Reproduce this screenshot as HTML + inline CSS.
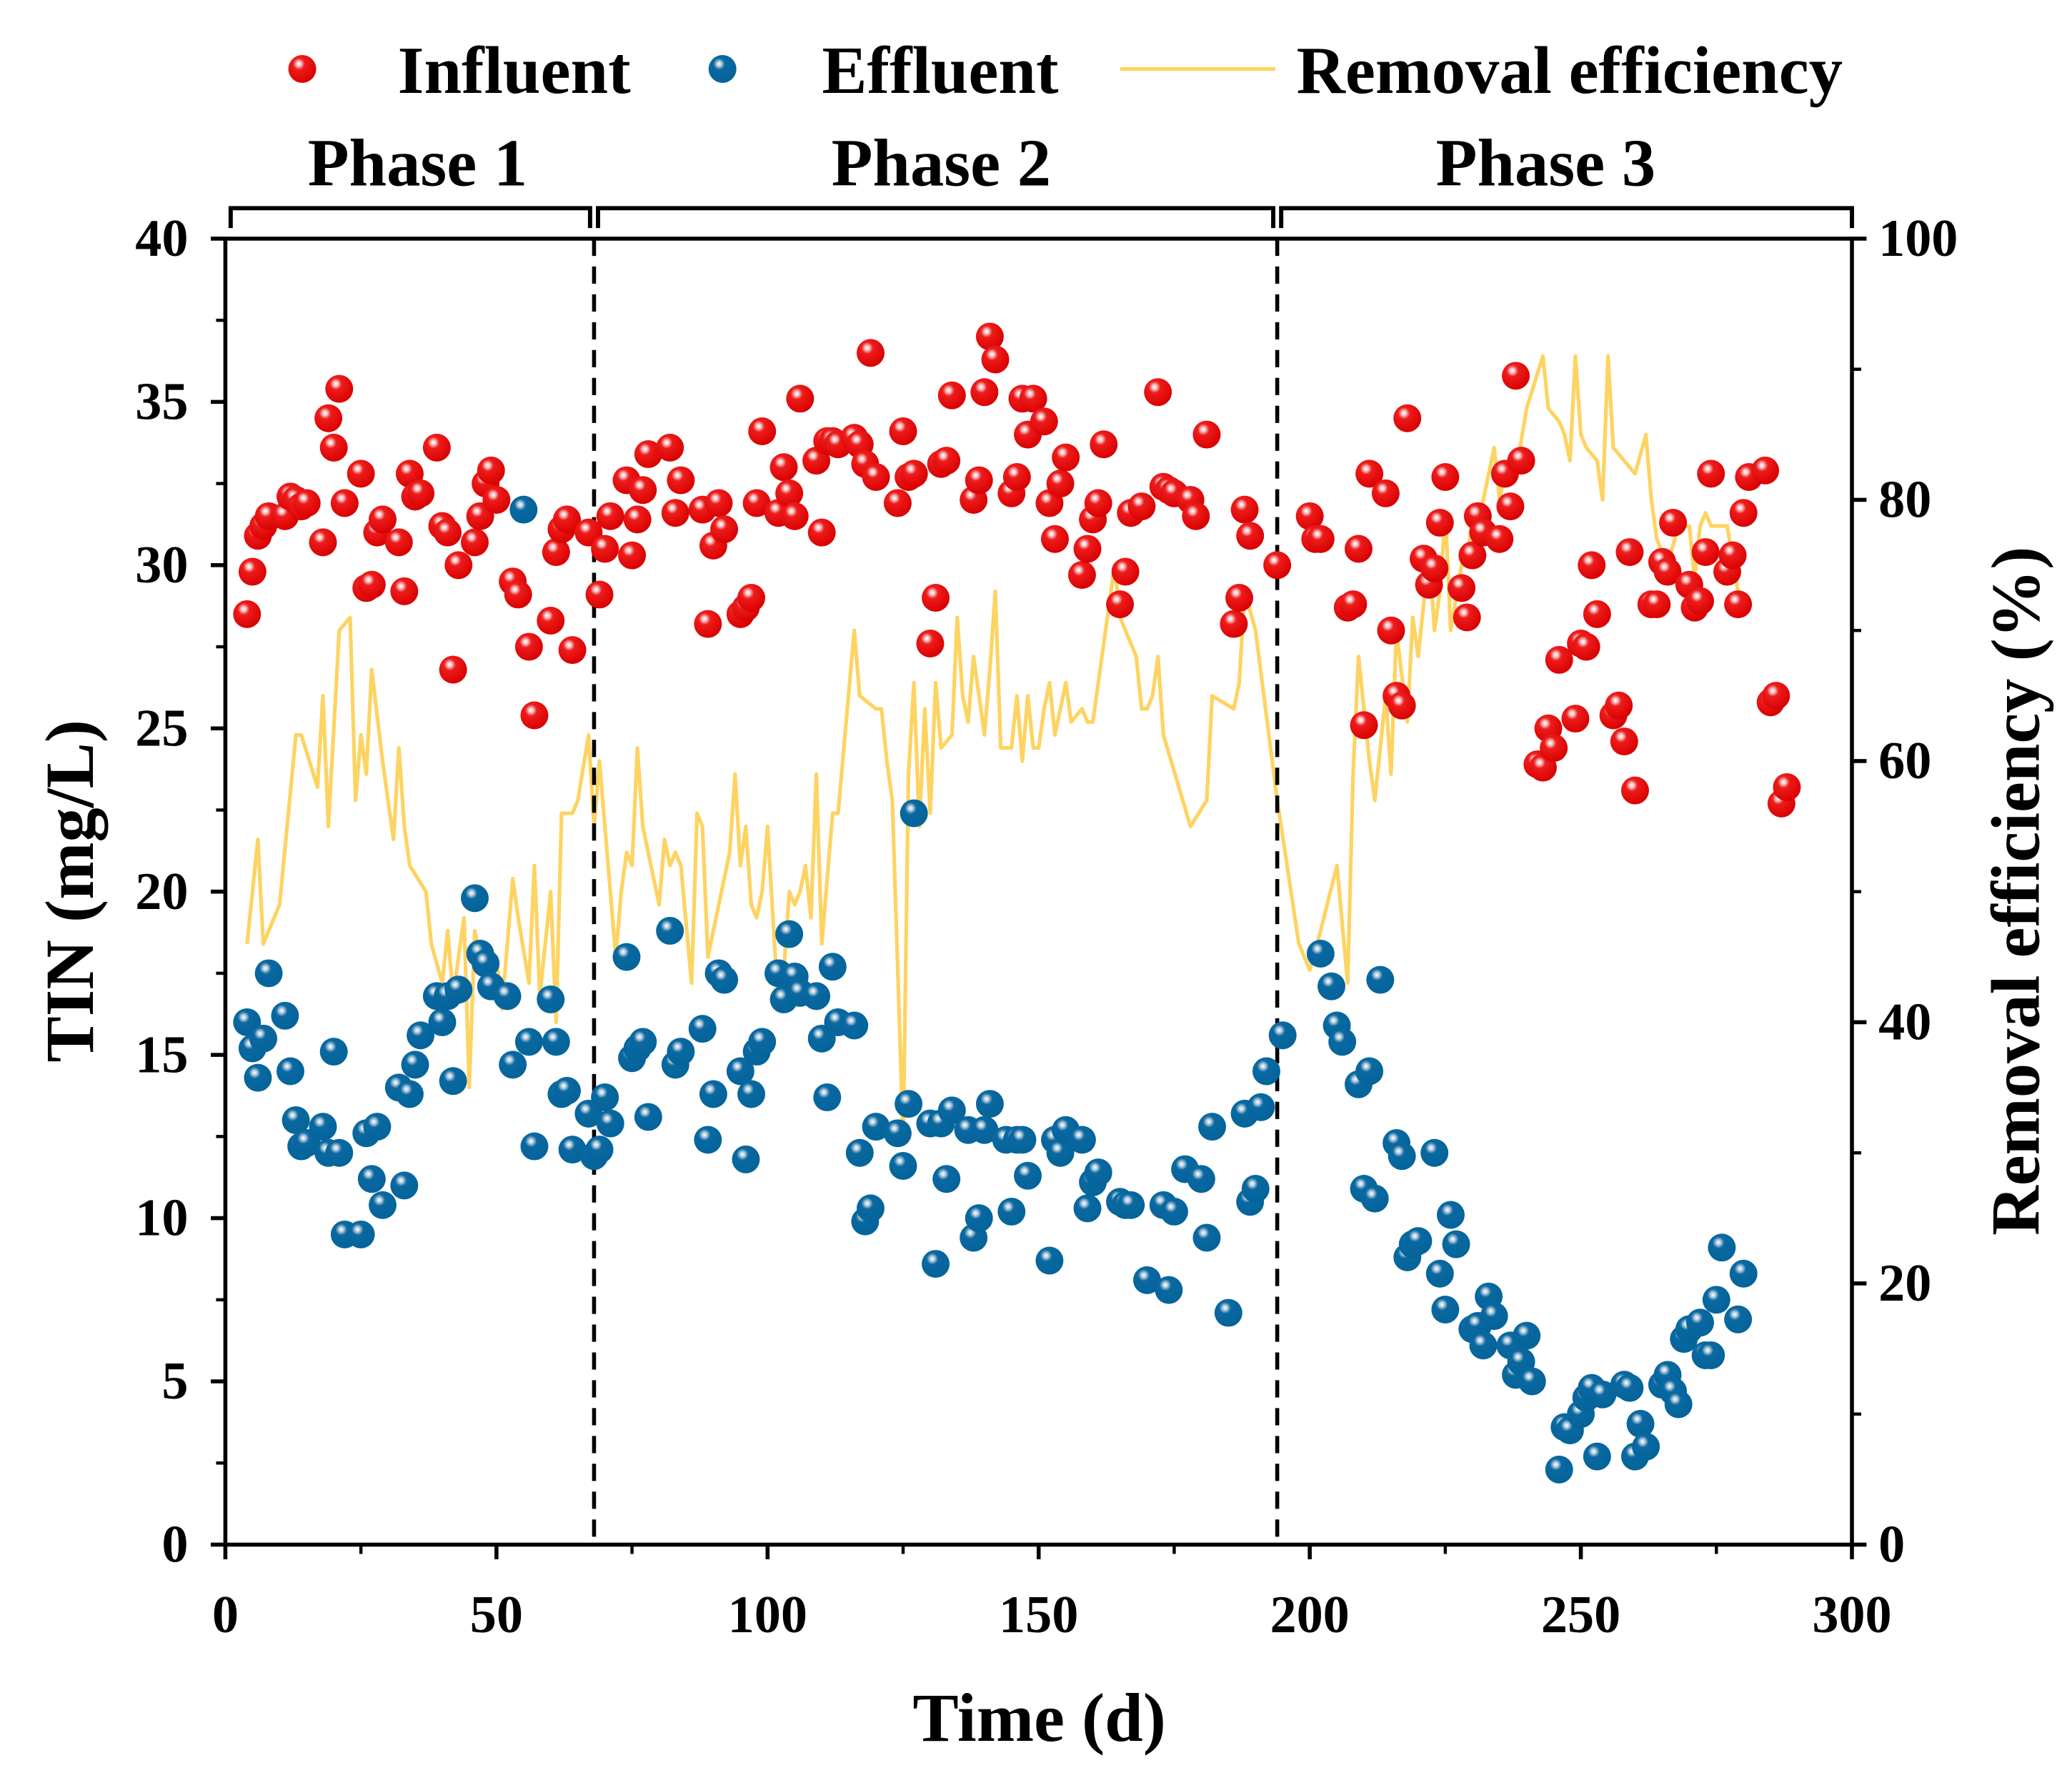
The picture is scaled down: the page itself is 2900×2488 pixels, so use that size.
<!DOCTYPE html>
<html><head><meta charset="utf-8"><style>
html,body{margin:0;padding:0;background:#fff;}
svg{display:block;font-family:"Liberation Serif",serif;font-weight:bold;}
</style></head><body>
<svg id="chart" width="2900" height="2488" viewBox="0 0 1563 1341" preserveAspectRatio="none" xmlns="http://www.w3.org/2000/svg">
<defs>
<radialGradient id="gr" cx="0.38" cy="0.32" r="0.7">
<stop offset="0" stop-color="#ffffff"/><stop offset="0.12" stop-color="#f6c4c4"/><stop offset="0.3" stop-color="#ee1c1c"/><stop offset="1" stop-color="#d80000"/></radialGradient>
<radialGradient id="gb" cx="0.38" cy="0.32" r="0.7">
<stop offset="0" stop-color="#ffffff"/><stop offset="0.12" stop-color="#b8cfe0"/><stop offset="0.3" stop-color="#0a68a0"/><stop offset="1" stop-color="#03649a"/></radialGradient>
</defs>
<g id="plot"></g>
</svg>
<script>
const influent = [[4,28.5],[5,29.8],[6,30.9],[7,31.2],[8,31.5],[11,31.5],[12,32.1],[13,32],[14,31.8],[15,31.9],[18,30.7],[19,34.5],[20,33.6],[21,35.4],[22,31.9],[25,32.8],[26,29.3],[27,29.4],[28,31],[29,31.4],[32,30.7],[33,29.2],[34,32.8],[35,32.1],[36,32.2],[39,33.6],[40,31.2],[41,31],[42,26.8],[43,30],[46,30.7],[47,31.5],[48,32.5],[49,32.9],[50,32],[53,29.5],[54,29.1],[56,27.5],[57,25.4],[60,28.3],[61,30.4],[62,31.1],[63,31.4],[64,27.4],[67,31],[69,29.1],[70,30.5],[71,31.5],[74,32.6],[75,30.3],[76,31.4],[77,32.3],[78,33.4],[82,33.6],[83,31.6],[84,32.6],[88,31.7],[89,28.2],[90,30.6],[91,31.9],[92,31.1],[95,28.5],[96,28.7],[97,29],[98,31.9],[99,34.1],[102,31.6],[103,33],[104,32.2],[105,31.5],[106,35.1],[109,33.2],[110,31],[111,33.8],[112,33.8],[113,33.7],[116,33.9],[117,33.7],[118,33.1],[119,36.5],[120,32.7],[124,31.9],[125,34.1],[126,32.7],[127,32.8],[130,27.6],[131,29],[132,33.1],[133,33.2],[134,35.2],[138,32],[139,32.6],[140,35.3],[141,37],[142,36.3],[145,32.2],[146,32.7],[147,35.1],[148,34],[149,35.1],[151,34.4],[152,31.9],[153,30.8],[154,32.5],[155,33.3],[158,29.7],[159,30.5],[160,31.4],[161,31.9],[162,33.7],[165,28.8],[166,29.8],[167,31.6],[169,31.8],[172,35.3],[173,32.4],[174,32.3],[175,32.2],[178,32],[179,31.5],[181,34],[186,28.2],[187,29],[188,31.7],[189,30.9],[194,30],[200,31.5],[201,30.8],[202,30.8],[207,28.7],[208,28.8],[209,30.5],[210,25.1],[211,32.8],[214,32.2],[215,28],[216,26],[217,25.7],[218,34.5],[221,30.2],[222,29.4],[223,29.9],[224,31.3],[225,32.7],[228,29.3],[229,28.4],[230,30.3],[231,31.5],[232,31],[235,30.8],[236,32.8],[237,31.8],[238,35.8],[239,33.2],[242,23.9],[243,23.8],[244,25],[245,24.4],[246,27.1],[249,25.3],[250,27.6],[251,27.5],[252,30],[253,28.5],[256,25.4],[257,25.7],[258,24.6],[259,30.4],[260,23.1],[263,28.8],[264,28.8],[265,30.1],[266,29.8],[267,31.3],[270,29.4],[271,28.7],[272,28.9],[273,30.4],[274,32.8],[277,29.8],[278,30.3],[279,28.8],[280,31.6],[281,32.7],[284,32.9],[285,25.8],[286,26],[287,22.7],[288,23.2]];
const effluent = [[4,16],[5,15.2],[6,14.3],[7,15.5],[8,17.5],[11,16.2],[12,14.5],[13,13],[14,12.2],[15,12.3],[18,12.8],[19,12],[20,15.1],[21,12],[22,9.5],[25,9.5],[26,12.6],[27,11.2],[28,12.8],[29,10.4],[32,14],[33,11],[34,13.8],[35,14.7],[36,15.6],[39,16.8],[40,16],[41,16.8],[42,14.2],[43,17],[46,19.8],[47,18.1],[48,17.8],[49,17.1],[52,16.8],[53,14.7],[55,31.7],[56,15.4],[57,12.2],[60,16.7],[61,15.4],[62,13.8],[63,13.9],[64,12.1],[67,13.2],[68,11.9],[69,12.1],[70,13.7],[71,12.9],[74,18],[75,14.9],[76,15.2],[77,15.4],[78,13.1],[82,18.8],[83,14.7],[84,15.1],[88,15.8],[89,12.4],[90,13.8],[91,17.5],[92,17.3],[95,14.5],[96,11.8],[97,13.8],[98,15.1],[99,15.4],[102,17.5],[103,16.7],[104,18.7],[105,17.4],[106,16.9],[109,16.8],[110,15.5],[111,13.7],[112,17.7],[113,16],[116,15.9],[117,12],[118,9.9],[119,10.3],[120,12.8],[124,12.6],[125,11.6],[126,13.5],[127,22.4],[130,12.9],[131,8.6],[132,12.9],[133,11.2],[134,13.3],[137,12.7],[138,9.4],[139,10],[140,12.7],[141,13.5],[144,12.4],[145,10.2],[146,12.4],[147,12.4],[148,11.3],[152,8.7],[153,12.4],[154,12],[155,12.7],[158,12.4],[159,10.3],[160,11.1],[161,11.4],[165,10.5],[166,10.4],[167,10.4],[170,8.1],[173,10.4],[174,7.8],[175,10.2],[177,11.5],[180,11.2],[181,9.4],[182,12.8],[185,7.1],[188,13.2],[189,10.5],[190,10.9],[191,13.4],[192,14.5],[195,15.6],[202,18.1],[204,17.1],[205,15.9],[206,15.4],[209,14.1],[210,10.9],[211,14.5],[212,10.6],[213,17.3],[216,12.3],[217,11.9],[218,8.8],[219,9.2],[220,9.3],[223,12],[224,8.3],[225,7.2],[226,10.1],[227,9.2],[230,6.6],[231,6.7],[232,6.1],[233,7.6],[234,7],[237,6.1],[238,5.2],[239,5.6],[240,6.4],[241,5],[246,2.3],[247,3.6],[248,3.5],[250,4],[251,4.5],[252,4.8],[253,2.7],[254,4.6],[258,4.9],[259,4.8],[260,2.7],[261,3.7],[262,3],[265,4.9],[266,5.2],[267,4.7],[268,4.3],[269,6.3],[270,6.6],[272,6.8],[273,5.8],[274,5.8],[275,7.5],[276,9.1],[279,6.9],[280,8.3]];
const efficiency = [[4,46],[6,54],[7,46],[9,48],[10,49],[13,62],[14,62],[17,58],[18,65],[19,55],[21,70],[23,71],[24,57],[25,62],[26,59],[27,67],[29,60],[31,54],[32,61],[33,55],[34,52],[37,50],[38,46],[40,43],[41,47],[42,42],[44,48],[45,35],[46,47],[47,45],[48,42],[50,45],[51,41],[53,51],[54,48],[56,43],[57,52],[58,42],[60,50],[61,40],[62,56],[64,56],[65,57],[67,62],[68,55],[69,60],[70,55],[72,45],[73,50],[74,53],[75,52],[76,61],[77,55],[80,49],[81,54],[82,52],[83,53],[84,52],[86,43],[87,56],[88,55],[89,45],[91,49],[93,53],[94,59],[95,52],[96,55],[97,49],[98,48],[99,50],[100,55],[102,41],[103,44],[104,50],[105,49],[106,50],[107,52],[108,48],[109,59],[110,46],[112,56],[113,56],[116,70],[117,65],[120,64],[121,64],[122,60],[123,57],[125,31],[126,59],[127,66],[128,55],[129,64],[130,56],[131,66],[132,61],[134,62],[135,71],[136,65],[137,63],[138,68],[140,62],[141,67],[142,73],[143,61],[145,61],[146,65],[147,60],[148,65],[149,61],[150,61],[151,64],[152,66],[153,62],[155,66],[156,63],[158,64],[159,63],[160,63],[164,75],[165,71],[168,68],[169,64],[170,64],[171,65],[172,68],[173,62],[178,55],[181,57],[182,65],[186,64],[187,66],[188,73],[190,70],[194,57],[198,46],[200,44],[202,47],[205,52],[207,43],[208,59],[209,68],[211,60],[212,57],[213,61],[214,65],[215,59],[216,70],[218,63],[219,71],[220,68],[222,76],[223,70],[224,73],[225,79],[226,70],[228,75],[229,75],[230,79],[231,78],[234,84],[235,80],[236,82],[238,82],[240,87],[243,91],[244,87],[246,86],[247,85],[248,83],[249,91],[250,85],[251,84],[253,83],[254,80],[255,91],[256,84],[258,83],[260,82],[262,85],[263,80],[264,77],[266,75],[268,78],[270,78],[271,74],[272,78],[273,79],[274,78],[277,78],[279,73]];
const xTicks = [0,50,100,150,200,250,300];
const yTicks = [0,5,10,15,20,25,30,35,40];
const y2Ticks = [0,20,40,60,80,100];
const phaseBounds = [68,194];
const phaseLabels = ["Phase 1","Phase 2","Phase 3"];

const NS="http://www.w3.org/2000/svg";
const X0=170,X1=1397,YB=1165,YT=180;
const sx=t=>X0+(t/300)*(X1-X0);
const sy=v=>YB-(v/40)*(YB-YT);
const sy2=v=>YB-(v/100)*(YB-YT);
const g=document.getElementById('plot');
function mk(tag,attrs,parent){const e=document.createElementNS(NS,tag);for(const k in attrs)e.setAttribute(k,attrs[k]);(parent||g).appendChild(e);return e;}

const effPts=efficiency.map(p=>sx(p[0]).toFixed(1)+','+sy2(p[1]).toFixed(1)).join(' ');
const eline=mk('polyline',{points:effPts,fill:'none',stroke:'#fdd362','stroke-width':2.8,'stroke-linejoin':'round'});



phaseBounds.forEach((b,i)=>{
  const l=mk('line',{x1:sx(b),x2:sx(b),y1:YT,y2:YB,stroke:'#000','stroke-width':3,'stroke-dasharray':'13,8'});
  
  
});

influent.forEach(p=>{
  const c=mk('circle',{cx:sx(p[0]),cy:sy(p[1]),r:10.5,fill:'url(#gr)'});
  
  
});
effluent.forEach(p=>{
  const c=mk('circle',{cx:sx(p[0]),cy:sy(p[1]),r:10.5,fill:'url(#gb)'});
  
  
});

const fr=mk('rect',{x:X0,y:YT,width:X1-X0,height:YB-YT,fill:'none',stroke:'#000','stroke-width':3});



xTicks.forEach(t=>{
  mk('line',{x1:sx(t),x2:sx(t),y1:YB,y2:YB+11,stroke:'#000','stroke-width':3});
  const tx=mk('text',{x:sx(t),y:YB+66,'text-anchor':'middle','font-size':40});
  tx.textContent=t;
  
  
});
for(let t=25;t<300;t+=50){mk('line',{x1:sx(t),x2:sx(t),y1:YB,y2:YB+7,stroke:'#000','stroke-width':2.4});}
yTicks.forEach(v=>{
  mk('line',{x1:X0-11,x2:X0,y1:sy(v),y2:sy(v),stroke:'#000','stroke-width':3});
  const tx=mk('text',{x:X0-28,y:sy(v)+13,'text-anchor':'end','font-size':40});
  tx.textContent=v;
  
  
});
for(let v=2.5;v<40;v+=5){mk('line',{x1:X0-7,x2:X0,y1:sy(v),y2:sy(v),stroke:'#000','stroke-width':2.4});}
y2Ticks.forEach(v=>{
  mk('line',{x1:X1,x2:X1+11,y1:sy2(v),y2:sy2(v),stroke:'#000','stroke-width':3});
  const tx=mk('text',{x:X1+20,y:sy2(v)+13,'text-anchor':'start','font-size':40});
  tx.textContent=v;
  
  
});
for(let v=10;v<100;v+=20){mk('line',{x1:X1,x2:X1+7,y1:sy2(v),y2:sy2(v),stroke:'#000','stroke-width':2.4});}

const bounds=[0,...phaseBounds,300];
for(let i=0;i<3;i++){
  const a=sx(bounds[i])+(i===0?4:3), b=sx(bounds[i+1])-(i===2?0:3);
  const br=mk('polyline',{points:`${a},172 ${a},157 ${b},157 ${b},172`,fill:'none',stroke:'#000','stroke-width':3.2});
  
  
  const cx=[315,710,1166][i];
  const tx=mk('text',{x:cx,y:140,'text-anchor':'middle','font-size':51});
  tx.textContent=phaseLabels[i];
  
  
}

let t1=mk('text',{x:784,y:1313,'text-anchor':'middle','font-size':52});t1.textContent='Time (d)';


let t2=mk('text',{x:0,y:0,'text-anchor':'middle','font-size':52,transform:'translate(70,672) rotate(-90)'});t2.textContent='TIN (mg/L)';


let t3=mk('text',{x:0,y:0,'text-anchor':'middle','font-size':52,transform:'translate(1538,672) rotate(-90)'});t3.textContent='Removal efficiency (%)';



let l1=mk('circle',{cx:228,cy:52,r:10.5,fill:'url(#gr)'});


let l1t=mk('text',{x:300,y:70,'font-size':51});l1t.textContent='Influent';


let l2=mk('circle',{cx:545,cy:52,r:10.5,fill:'url(#gb)'});


let l2t=mk('text',{x:620,y:70,'font-size':51});l2t.textContent='Effluent';


let l3=mk('line',{x1:845,x2:962,y1:52,y2:52,stroke:'#fdd362','stroke-width':2.8});


let l3t=mk('text',{x:978,y:70,'font-size':51});l3t.textContent='Removal efficiency';


</script>
</body></html>
